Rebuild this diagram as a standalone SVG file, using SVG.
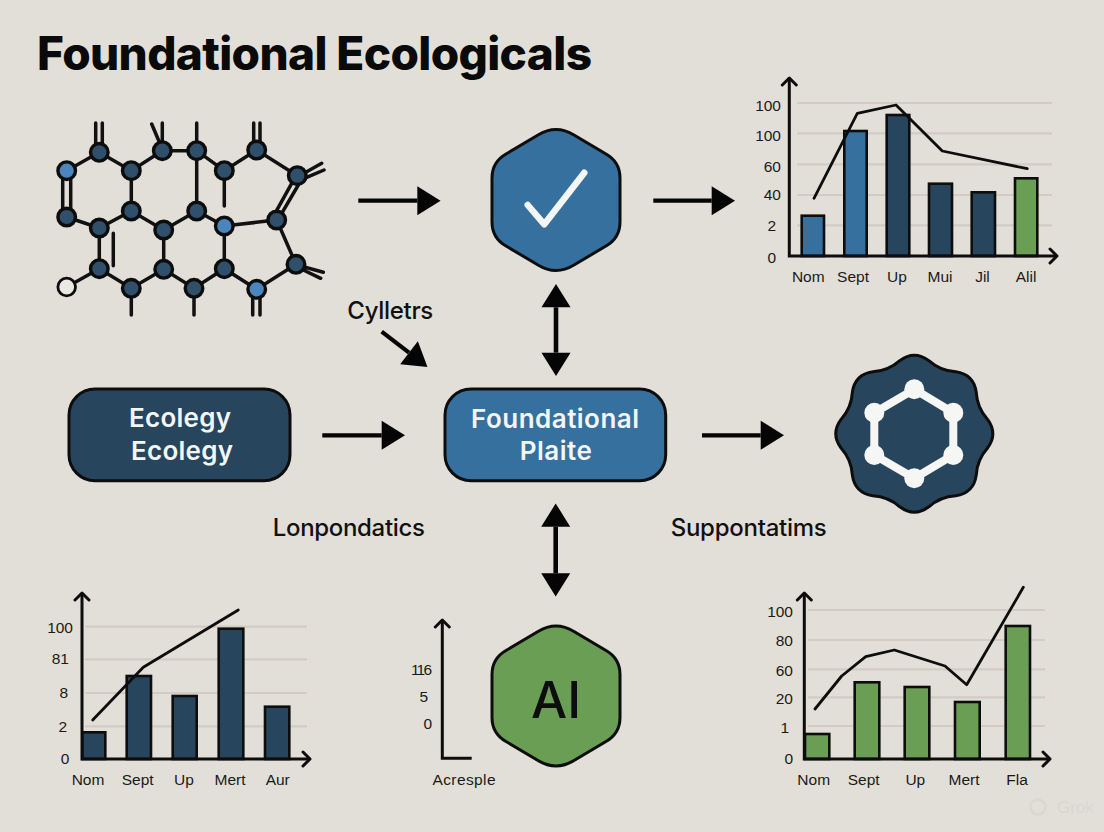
<svg xmlns="http://www.w3.org/2000/svg" width="1104" height="832" viewBox="0 0 1104 832">
<style>
text{font-family:"Liberation Sans",Arial,sans-serif;fill:#111}
.title{font-family:Inter,"Liberation Sans",sans-serif;font-size:46px;font-weight:800;fill:#0a0a0a}
.lab{font-family:Inter,"Liberation Sans",sans-serif;font-size:24px;font-weight:500}
.nodetx{font-family:Inter,"Liberation Sans",sans-serif;font-size:26px;font-weight:600;fill:#f4f5f5;text-anchor:middle}
.tick{font-size:15.5px;text-anchor:end;fill:#1a1a1a}
.cat{font-size:15.5px;text-anchor:middle;fill:#1a1a1a}
.grid{stroke:#d2ccc5;stroke-width:2.2;fill:none}
.axis{stroke:#0d0d0d;stroke-width:3;fill:none;marker-end:url(#chev);marker-start:url(#chev)}
.trend{stroke:#0d0d0d;stroke-width:2.8;fill:none;stroke-linejoin:round;stroke-linecap:round}
.bar{stroke:#0d0d0d;stroke-width:2.6}
.dark{fill:#27465e}.blue{fill:#35709f}.green{fill:#6a9e55}
.edge{stroke:#111;stroke-width:3.5;fill:none;stroke-linecap:round}
.atom{fill:#2f4f6b;stroke:#0d0d0d;stroke-width:3.4}
.atomb{fill:#4a86bd;stroke:#0d0d0d;stroke-width:3.4}
.arrow{stroke:#050505;stroke-width:4.2;fill:none;marker-end:url(#head)}
.arrow2{stroke:#050505;stroke-width:4.6;fill:none;marker-end:url(#head);marker-start:url(#head)}
.shape{stroke:#0d0d0d;stroke-width:3}
</style>
<defs>
<marker id="head" markerUnits="userSpaceOnUse" viewBox="-1 -15 25 30" refX="0" refY="0" markerWidth="25" markerHeight="30" orient="auto-start-reverse"><path d="M0 -14.5L23.3 0L0 14.5Z" fill="#050505"/></marker>
<marker id="chev" markerUnits="userSpaceOnUse" viewBox="-10 -10 12 20" refX="0" refY="0" markerWidth="12" markerHeight="20" orient="auto-start-reverse"><path d="M-7 -7L0 0L-7 7" fill="none" stroke="#0d0d0d" stroke-width="3" stroke-linecap="round" stroke-linejoin="round"/></marker>
</defs>
<rect width="1104" height="832" fill="#e2dfd8"/>
<text id="title" class="title" x="37" y="70" textLength="555">Foundational Ecologicals</text>

<g id="molecule">
<g class="edges">
<path class="edge" d="M66.7 170.7L99.3 152.3L131.3 170.7L162.3 150.7L196.7 150.7L224.3 170.7L256.7 150L297.3 175.7"/>
<path class="edge" d="M62.7 172V216M70.7 172V216"/>
<path class="edge" d="M66.7 217L99.3 228L131.3 211L163.7 230L196.7 211L224.3 226L276.7 220L296 264.3L256.7 289.3L224.3 268.7L194 288.3L163.7 269.3L131.3 288.3L99.3 268.7L66.7 287"/>
<path class="edge" d="M131.3 170.7V211M196.7 150.7V211M163.7 230V269.3M224.3 226V268.7M99.3 228V268.7"/>
<path class="edge" d="M291.7 183.3L276 211.7M298.3 185L281.7 213.3"/>
<path class="edge" d="M95.7 123V150M102.3 123V150M151.7 124L159.3 142M162.3 123V150M196.7 123V150M253.7 123V150M260 123V150M224.3 171V206"/>
<path class="edge" d="M306.7 171.7L321.7 163.3M306.7 177.3L324 170M303.3 266.7L323.3 272.3M303.3 270L320.7 278.3"/>
<path class="edge" d="M113.3 233.3V265.7M131.3 288V315M194 288V315M252.7 290V315M260 290V315"/>
</g>
<circle class="atomb" cx="66.7" cy="170.7" r="8.8"/>
<circle class="atom" cx="99.3" cy="152.3" r="8.8"/>
<circle class="atom" cx="131.3" cy="170.7" r="8.8"/>
<circle class="atom" cx="162.3" cy="150.7" r="8.8"/>
<circle class="atom" cx="196.7" cy="150.7" r="8.8"/>
<circle class="atom" cx="224.3" cy="170.7" r="8.8"/>
<circle class="atom" cx="256.7" cy="150" r="8.8"/>
<circle class="atom" cx="297.3" cy="175.7" r="8.8"/>
<circle class="atom" cx="66.7" cy="217" r="8.8"/>
<circle class="atom" cx="99.3" cy="228" r="8.8"/>
<circle class="atom" cx="131.3" cy="211" r="8.8"/>
<circle class="atom" cx="163.7" cy="230" r="8.8"/>
<circle class="atom" cx="196.7" cy="211" r="8.8"/>
<circle class="atomb" cx="224.3" cy="226" r="8.8"/>
<circle class="atom" cx="276.7" cy="220" r="8.8"/>
<circle class="atom" cx="296" cy="264.3" r="8.8"/>
<circle class="atom" cx="99.3" cy="268.7" r="8.8"/>
<circle class="atom" cx="131.3" cy="288.3" r="8.8"/>
<circle class="atom" cx="163.7" cy="269.3" r="8.8"/>
<circle class="atom" cx="194" cy="288.3" r="8.8"/>
<circle class="atom" cx="224.3" cy="268.7" r="8.8"/>
<circle class="atomb" cx="256.7" cy="289.3" r="8.8"/>
<circle cx="66.7" cy="287" r="8.8" fill="#ebe9e4" stroke="#0d0d0d" stroke-width="2.8"/>
</g>

<g id="connectors">
<path class="arrow" d="M358.3 200.7H417.3"/>
<path class="arrow" d="M653.3 200.7H711.7"/>
<path class="arrow" d="M322.3 435.3H381.7"/>
<path class="arrow" d="M702 435.3H760.7"/>
<path class="arrow" d="M381.7 331.7L409 352.7"/>
<path class="arrow2" d="M556 307.3V352.7"/>
<path class="arrow2" d="M555.7 526.7V573.3"/>
</g>

<g id="node-check">
<path class="shape" fill="#35709f" d="M538 135Q556 124 574 135L606 154Q620 162 620 178V222Q620 238 606 246L574 265Q556 276 538 265L506 246Q492 238 492 222V178Q492 162 506 154Z"/>
<path d="M527.7 205L544.3 224.3L584.3 172.7" fill="none" stroke="#f4f5f5" stroke-width="6.5" stroke-linecap="round" stroke-linejoin="round"/>
</g>

<g id="node-ecology">
<rect class="shape dark" x="69" y="389" width="221" height="91.7" rx="26"/>
<text class="nodetx" x="180" y="427.3" textLength="102">Ecolegy</text>
<text class="nodetx" x="182" y="460" textLength="102">Ecolegy</text>
</g>

<g id="node-foundational">
<rect class="shape blue" x="445" y="389" width="220.7" height="91.7" rx="26"/>
<text class="nodetx" x="555" y="428.3" textLength="168">Foundational</text>
<text class="nodetx" x="555.8" y="460" textLength="72">Plaite</text>
</g>

<g id="node-ring">
<path class="shape dark" transform="translate(914.3 433.7)" d="M73.07 -14.53Q84 0 73.07 14.53Q62.8 26 61.95 41.39Q59.4 59.4 41.39 61.95Q26 62.8 14.53 73.07Q0 84 -14.53 73.07Q-26 62.8 -41.39 61.95Q-59.4 59.4 -61.95 41.39Q-62.8 26 -73.07 14.53Q-84 0 -73.07 -14.53Q-62.8 -26 -61.95 -41.39Q-59.4 -59.4 -41.39 -61.95Q-26 -62.8 -14.53 -73.07Q0 -84 14.53 -73.07Q26 -62.8 41.39 -61.95Q59.4 -59.4 61.95 -41.39Q62.8 -26 73.07 -14.53Z"/>
<path d="M914.3 389.3L953.3 412.7V455L914.3 478.3L874.3 455V412.7Z" fill="none" stroke="#f6f6f5" stroke-width="8"/>
<g fill="#f6f6f5"><circle cx="914.3" cy="389.3" r="10"/><circle cx="953.3" cy="412.7" r="10"/><circle cx="953.3" cy="455" r="10"/><circle cx="914.3" cy="478.3" r="10"/><circle cx="874.3" cy="455" r="10"/><circle cx="874.3" cy="412.7" r="10"/></g>
</g>

<g id="node-ai">
<path class="shape green" d="M538 631.5Q556 620.5 574 631.5L606 650.5Q620 658.5 620 674.5V717.5Q620 733.5 606 741.5L574 760.5Q556 771.5 538 760.5L506 741.5Q492 733.5 492 717.5V674.5Q492 658.5 506 650.5Z"/>
<text x="556" y="718" text-anchor="middle" style="font-family:Inter,'Liberation Sans',sans-serif;font-size:51px;font-weight:500;fill:#0d0d0d">AI</text>
</g>

<g id="labels">
<text class="lab" x="347.3" y="319.3" textLength="86">Cylletrs</text>
<text class="lab" x="272.7" y="535.7" textLength="152.3">Lonpondatics</text>
<text class="lab" x="670.7" y="535.7" textLength="156">Suppontatims</text>
</g>

<g id="chart-top-right">
<path class="grid" d="M797 103H1052M797 133.3H1052M797 164.3H1052M797 195H1052M797 225.3H1052"/>
<rect class="bar blue" x="801.7" y="215.7" width="22.3" height="40.3"/>
<rect class="bar blue" x="844.3" y="131" width="22.4" height="125"/>
<rect class="bar dark" x="886.7" y="115" width="22.6" height="141"/>
<rect class="bar dark" x="929" y="183.7" width="23" height="72.3"/>
<rect class="bar dark" x="971.7" y="192.3" width="23.3" height="63.7"/>
<rect class="bar green" x="1015" y="178.3" width="22.3" height="77.7"/>
<path class="trend" d="M814 198.3L857.3 113.3L896 105L942.3 151L1027.3 168.7"/>
<path class="axis" d="M789.3 78V256H1057"/>
<text class="tick" x="781" y="110.7">100</text><text class="tick" x="781" y="140.7">100</text><text class="tick" x="781" y="171.7">60</text><text class="tick" x="781" y="200">40</text><text class="tick" x="776" y="231">2</text><text class="tick" x="776" y="262.7">0</text>
<text class="cat" x="808.3" y="282">Nom</text><text class="cat" x="853" y="282">Sept</text><text class="cat" x="897" y="282">Up</text><text class="cat" x="940" y="282">Mui</text><text class="cat" x="982.5" y="282">Jil</text><text class="cat" x="1026" y="282">Alil</text>
</g>

<g id="chart-bottom-left">
<path class="grid" d="M85 626.7H307M85 659.3H307M85 693H307M85 726.3H307"/>
<rect class="bar dark" x="82.3" y="732.3" width="23" height="26.7"/>
<rect class="bar dark" x="126.7" y="676" width="24.3" height="83"/>
<rect class="bar dark" x="172.7" y="696" width="24" height="63"/>
<rect class="bar dark" x="218.7" y="628.7" width="24.6" height="130.3"/>
<rect class="bar dark" x="265" y="706.7" width="24.3" height="52.3"/>
<path class="trend" d="M92.7 720L143.3 667.3L238.3 610"/>
<path class="axis" d="M82 593V759H310"/>
<text class="tick" x="73" y="633">100</text><text class="tick" x="69" y="664">81</text><text class="tick" x="68" y="698">8</text><text class="tick" x="67" y="732">2</text><text class="tick" x="69.3" y="764">0</text>
<text class="cat" x="88" y="785">Nom</text><text class="cat" x="137.7" y="785">Sept</text><text class="cat" x="184" y="785">Up</text><text class="cat" x="230" y="785">Mert</text><text class="cat" x="277.7" y="785">Aur</text>
</g>

<g id="chart-bottom-middle">
<path d="M442.3 620V758.3H471.7" fill="none" stroke="#0d0d0d" stroke-width="3" marker-start="url(#chev)"/>
<text class="tick" x="432" y="675" textLength="21">116</text><text class="tick" x="428" y="702">5</text><text class="tick" x="432" y="729">0</text>
<text class="cat" x="464" y="785" textLength="63">Acresple</text>
</g>

<g id="chart-bottom-right">
<path class="grid" d="M808 610H1045M808 640H1045M808 669.3H1045M808 697.3H1045M808 726H1045"/>
<rect class="bar green" x="805" y="734" width="24.3" height="25"/>
<rect class="bar green" x="854.7" y="682.3" width="24.6" height="76.7"/>
<rect class="bar green" x="904.7" y="687" width="24.6" height="72"/>
<rect class="bar green" x="955" y="702" width="24.7" height="57"/>
<rect class="bar green" x="1005.7" y="626" width="24.3" height="133"/>
<path class="trend" d="M815 709L841.7 676L865.7 656.7L894.3 650L945 666L966.7 684.7L1023.3 587.3"/>
<path class="axis" d="M804.3 593V759H1050"/>
<text class="tick" x="793" y="617.3">100</text><text class="tick" x="793" y="646">80</text><text class="tick" x="793" y="675.7">60</text><text class="tick" x="793" y="704">20</text><text class="tick" x="789" y="733">1</text><text class="tick" x="793" y="764">0</text>
<text class="cat" x="813.7" y="785">Nom</text><text class="cat" x="863.7" y="785">Sept</text><text class="cat" x="915.3" y="785">Up</text><text class="cat" x="964" y="785">Mert</text><text class="cat" x="1017" y="785">Fla</text>
</g>

<g id="watermark">
<circle cx="1038" cy="807" r="7.5" fill="none" stroke="#dad7d0" stroke-width="2.5"/>
<text x="1057" y="813" style="font-size:17px;fill:#dad7d0">Grok</text>
</g>
</svg>
